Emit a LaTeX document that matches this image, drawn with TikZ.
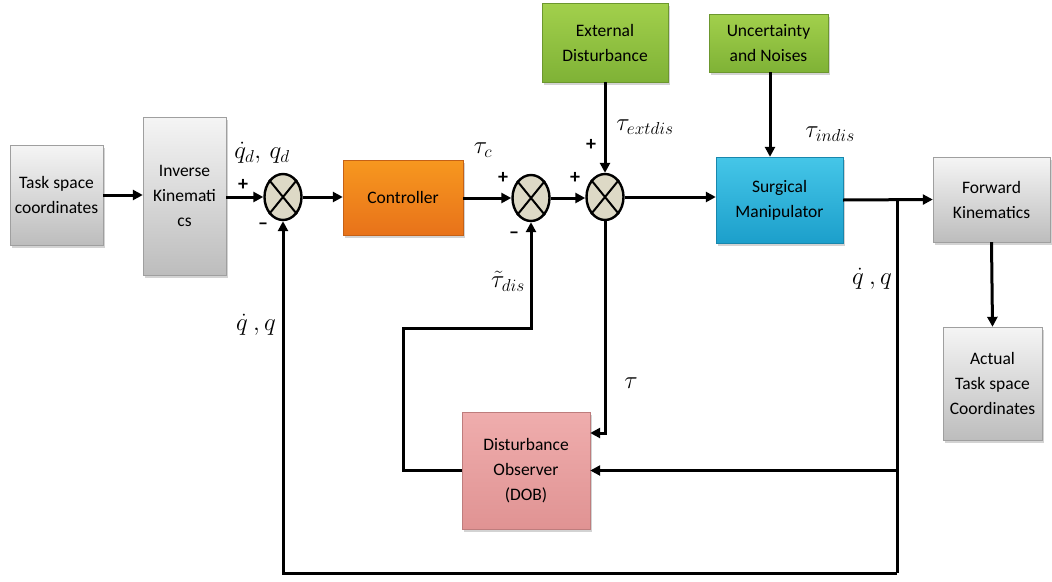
\documentclass[tikz,border=0pt]{standalone}
\usepackage{fontspec}
\setmainfont{Carlito}
\usetikzlibrary{arrows.meta,shapes.geometric,shadows,calc}
\definecolor{orangeT}{HTML}{F7981F}
\definecolor{orangeB}{HTML}{E8721A}
\definecolor{greenT}{HTML}{A2D04C}
\definecolor{greenB}{HTML}{7FB236}
\definecolor{blueT}{HTML}{45C6E8}
\definecolor{blueB}{HTML}{1C9FCB}
\definecolor{pinkT}{HTML}{EFADAD}
\definecolor{pinkB}{HTML}{E09393}
\definecolor{sumfill}{HTML}{DDD9C6}
\begin{document}
\begin{tikzpicture}[x=1pt,y=-1pt,
  box/.style={rectangle, inner sep=2pt, align=center,
    font=\fontsize{17.5}{25}\selectfont,
    drop shadow={shadow xshift=2pt,shadow yshift=-2.5pt,opacity=0.35}},
  graybox/.style={box, draw=gray!75, top color=gray!8, middle color=gray!30, bottom color=gray!52},
  orangebox/.style={box, draw=orangeB!85!black, top color=orangeT, bottom color=orangeB},
  greenbox/.style={box, draw=greenB!85!black, top color=greenT, bottom color=greenB},
  bluebox/.style={box, draw=blueB!85!black, top color=blueT, bottom color=blueB},
  pinkbox/.style={box, draw=pinkB!85!black, top color=pinkT, bottom color=pinkB},
  sumj/.style={ellipse, draw, line width=2.4pt, fill=sumfill, minimum width=37pt, minimum height=46pt, inner sep=0pt},
  ln/.style={line width=3pt},
  arr/.style={line width=3pt, -{Triangle[length=10pt,width=10pt]}},
  lab/.style={font=\fontsize{24}{28}\selectfont},
  sgn/.style={font=\fontsize{20}{22}\selectfont\bfseries}
]
\path[use as bounding box] (0,0) rectangle (1052,581);

% blocks
\node[graybox, minimum width=93pt, minimum height=100pt] (tsc) at (56.5,195) {Task space\\coordinates};
\node[graybox, minimum width=83pt, minimum height=158pt] (ik) at (184.5,196) {Inverse\\Kinemati\\cs};
\node[orangebox, minimum width=120pt, minimum height=75pt] (ctrl) at (403,197.5) {Controller};
\node[greenbox, minimum width=126pt, minimum height=79pt] (ext) at (605,42.5) {External\\Disturbance};
\node[greenbox, minimum width=119pt, minimum height=58pt] (unc) at (768.5,43) {Uncertainty\\and Noises};
\node[bluebox, minimum width=127pt, minimum height=86pt] (sm) at (779.5,200) {Surgical\\Manipulator};
\node[graybox, minimum width=117pt, minimum height=85pt] (fk) at (991.5,199.5) {Forward\\Kinematics};
\node[graybox, minimum width=99pt, minimum height=113pt] (atc) at (992.5,383.5) {Actual\\Task space\\Coordinates};
\node[pinkbox, minimum width=128pt, minimum height=117pt] (dob) at (526,470.5) {Disturbance\\Observer\\(DOB)};

% summing junctions
\node[sumj] (s1) at (283,197) {};
\node[sumj] (s2) at (531,198) {};
\node[sumj] (s3) at (605,197) {};
\foreach \s in {s1,s2,s3}{
  \draw[line width=2pt] (\s.north east) -- (\s.south west) (\s.north west) -- (\s.south east);
}

% forward path
\draw[arr] (tsc.east) -- (ik.west |- tsc.east);
\draw[arr] (ik.east |- s1.west) -- (s1.west);
\draw[arr] (s1.east) -- (ctrl.west |- s1.east);
\draw[arr] (ctrl.east |- s2.west) -- (s2.west);
\draw[arr] (s2.east) -- (s3.west |- s2.east);
\draw[arr] (s3.east) -- (sm.west |- s3.east);
\draw[arr] (ext.south) -- (s3.north);
\draw[arr] (unc.south -| 770,0) -- (sm.north -| 770,0);
\coordinate (j) at (897,200);
\draw[arr] (sm.east) -- (fk.west);
\draw[arr] (fk.south) -- (atc.north);

% feedback paths
\coordinate (bot) at (897,573);
\draw[ln] (j) -- (bot);
\draw[arr] (bot) -| (s1.south);
\draw[arr] (j |- dob.east) -- (dob.east);
\draw[arr] (s3.south) |- ([yshift=37.5pt]dob.east);
\coordinate (lp) at (403,328);
\draw[arr] (dob.west) -| (lp) -| (s2.south);

% signal labels
\node[lab] (lqd) at (262,153) {$\dot{q}_d,\, q_d$};
\node[lab] (lq1) at (256,325) {$\dot{q}\ ,q$};
\node[lab] (ltc) at (483,150) {$\tau_c$};
\node[lab] (lte) at (645,127) {$\tau_{extdis}$};
\node[lab] (ltd) at (508,281) {$\tilde\tau_{dis}$};
\node[lab] (lti) at (830,134) {$\tau_{indis}$};
\node[lab] (lq2) at (872,279) {$\dot{q}\ ,q$};
\node[lab] (lt) at (631,383) {$\tau$};

% signs
\node[sgn] (p1) at (243,185) {+};
\node[sgn] (m1) at (263,226) {--};
\node[sgn] (p2) at (503,178) {+};
\node[sgn] (m2) at (514,235) {--};
\node[sgn] (p3) at (575,178) {+};
\node[sgn] (p4) at (591,145) {+};
\end{tikzpicture}
\end{document}
